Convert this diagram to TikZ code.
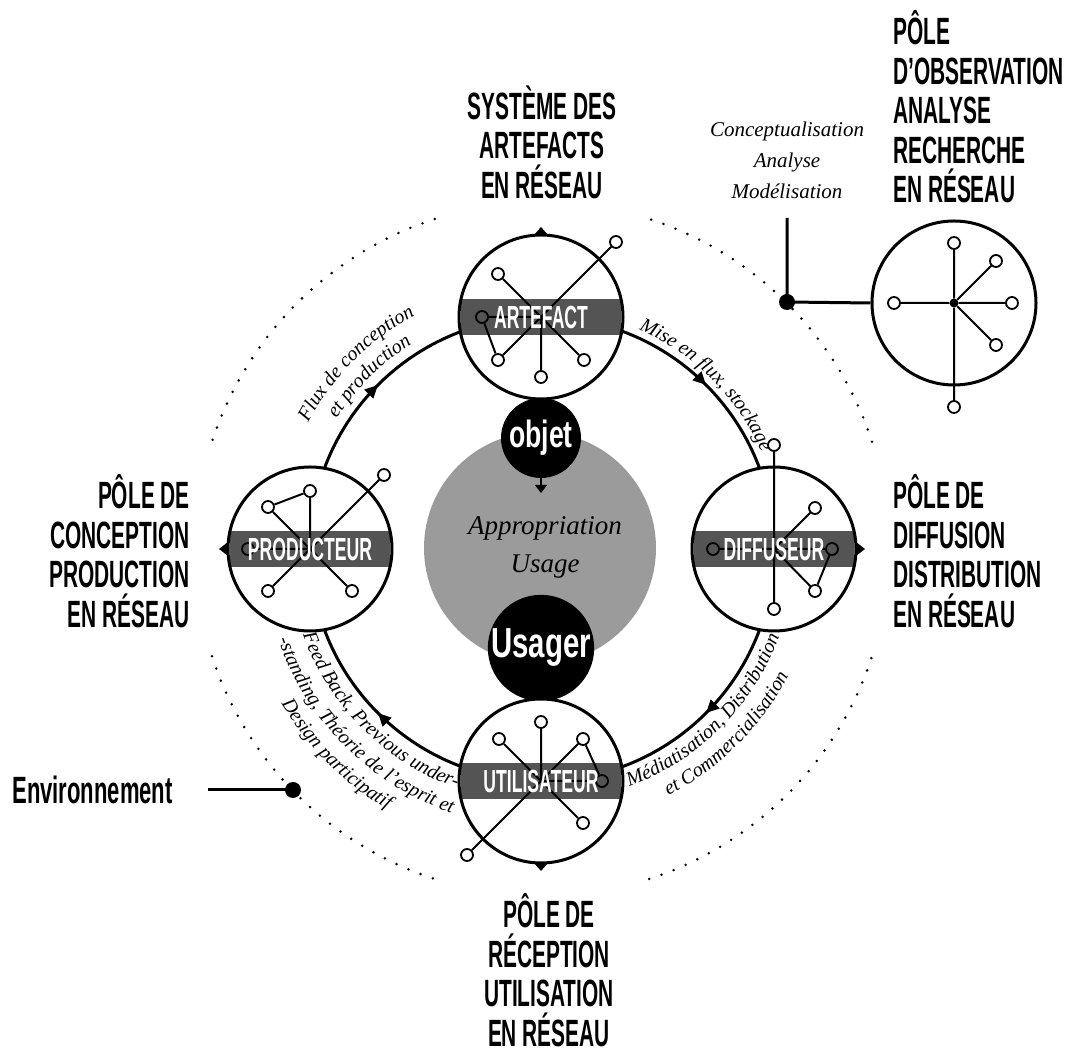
\documentclass[tikz,border=0pt]{standalone}
\usepackage{fontspec}
\setmainfont{Liberation Serif}
\newfontfamily\condf[FakeStretch=0.55]{Liberation Sans}
\newfontfamily\lowf[FakeStretch=0.7]{Liberation Sans}
\newfontfamily\envf[FakeStretch=0.58]{Liberation Sans}
\newfontfamily\itf{Liberation Serif}
\usetikzlibrary{arrows.meta,decorations.text,decorations.markings}
\definecolor{midgray}{HTML}{9B9B9B}
\begin{document}
\begin{tikzpicture}[x=1pt,y=1pt,
  thickline/.style={line width=3pt},
  netline/.style={line width=2pt},
  opn/.style={circle, draw, line width=1.8pt, fill=white, minimum size=12pt, inner sep=0pt},
  bandfill/.style={fill=black, fill opacity=0.67},
  bandtext/.style={text=white, inner sep=0pt, font=\condf\bfseries\fontsize{32}{32}\selectfont},
  biglabel/.style={inner sep=0pt, font=\condf\bfseries\fontsize{38}{39.5}\selectfont},
  pole/.style={circle, draw, line width=3pt, fill=white, minimum size=164pt, inner sep=0pt},
  dotline/.style={line width=2.8pt, dash pattern=on 0pt off 13pt, line cap=round},
  curvetext/.style={decorate, decoration={text along path, text align=center, text={|\itf\itshape\fontsize{20}{20}\selectfont|#1}}},
  bigdot/.style={circle, fill=black, minimum size=16pt, inner sep=0pt},
  italabel/.style={inner sep=0pt, align=center},
]
\fill[white] (0,0) rectangle (1072,1050);
\useasboundingbox (0,0) rectangle (1072,1050);

% ---------- ring, dotted environment circle, curved labels
\coordinate (C) at (542,501);
\begin{scope}[shift={(542,501)}]
  \draw[thickline, postaction={decorate}, decoration={markings,
      mark=at position 0.125 with {\arrow{Triangle[length=13pt,width=12pt]}},
      mark=at position 0.375 with {\arrow{Triangle[length=13pt,width=12pt]}},
      mark=at position 0.625 with {\arrow{Triangle[length=13pt,width=12pt]}},
      mark=at position 0.875 with {\arrow{Triangle[length=13pt,width=12pt]}}}]
    (0:232) arc[start angle=0, end angle=-360, radius=232];
  \draw[dotline] (18:347) arc[start angle=18, end angle=72, radius=347];
  \draw[dotline] (108:347) arc[start angle=108, end angle=162, radius=347];
  \draw[dotline] (198:347) arc[start angle=198, end angle=252, radius=347];
  \draw[dotline] (288:347) arc[start angle=288, end angle=342, radius=347];
  % curved labels
  \path[curvetext={Flux de conception}] (165:266) arc[start angle=165, end angle=105, radius=266];
  \path[curvetext={et production}] (165:243) arc[start angle=165, end angle=105, radius=243];
  \path[curvetext={Mise en flux, stockage}] (78:240) arc[start angle=78, end angle=12, radius=240];
  \path[curvetext={Médiatisation, Distribution}] (-80:253) arc[start angle=-80, end angle=-10, radius=253];
  \path[curvetext={et Commercialisation}] (-80:277) arc[start angle=-80, end angle=-10, radius=277];
  \path[curvetext={Feed Back, Previous under-}] (185:254) arc[start angle=185, end angle=265, radius=254];
  \path[curvetext={-standing, Théorie de l’esprit et}] (185:279) arc[start angle=185, end angle=265, radius=279];
  \path[curvetext={Design participatif}] (185:303) arc[start angle=185, end angle=265, radius=303];
\end{scope}

% ---------- central appropriation circle
\node[circle, fill=midgray, minimum size=232pt, inner sep=0pt] (G) at (540,502) {};
\node[italabel, font=\itf\itshape\fontsize{27}{38}\selectfont] (appr) at (545,503) {Appropriation\\Usage};
\node[circle, fill=black, minimum size=80pt, inner sep=0pt, text=white,
      font=\lowf\bfseries\fontsize{38}{38}\selectfont] (obj) at (541,612) {objet};
\coordinate (objtip) at (541,557);
\draw[line width=1.5pt, -{Triangle[length=8pt,width=12pt]}] (obj.south) -- (objtip);
\node[circle, fill=black, minimum size=106pt, inner sep=0pt, text=white,
      font=\lowf\bfseries\fontsize{42}{42}\selectfont] (usr) at (541,402) {Usager};

% ---------- poles
\node[pole] (T) at (541,733) {};
\node[pole] (L) at (310,501) {};
\node[pole] (R) at (774,501) {};
\node[pole] (B) at (541,269) {};
\node[pole] (O) at (954,747) {};

% tip triangles
\fill (534,815) -- (548,815) -- (541,823) -- cycle;
\fill (228,494) -- (228,508) -- (219,501) -- cycle;
\fill (856,494) -- (856,508) -- (865,501) -- cycle;
\fill (534,187) -- (548,187) -- (541,179) -- cycle;

% ARTEFACT network
\begin{scope}[shift={(541,733)}]
  \coordinate (a0) at (0,0);
  \node[opn] (a1) at (75,75) {};
  \node[opn] (a2) at (-43,-43) {};
  \node[opn] (a3) at (-43,43) {};
  \node[opn] (a4) at (43,-43) {};
  \node[opn] (a5) at (0,-60) {};
  \node[opn] (a6) at (-59,0) {};
  \draw[netline] (a2) -- (a1) (a3) -- (a4) (a5) -- (a0) (a6) -- (a0) (a6) -- (a2);
  \fill[bandfill] (-80,-18) rectangle (80,18);
  \node[bandtext] (ta) at (0,0) {ARTEFACT};
\end{scope}

% PRODUCTEUR network
\begin{scope}[shift={(310,501)}]
  \coordinate (b0) at (0,0);
  \node[opn] (b1) at (0,58) {};
  \node[opn] (b2) at (-42,42) {};
  \node[opn] (b3) at (74,74) {};
  \node[opn] (b4) at (-42,-42) {};
  \node[opn] (b5) at (42,-42) {};
  \node[opn] (b6) at (-62,0) {};
  \draw[netline] (b2) -- (b1) (b1) -- (b0) (b2) -- (b5) (b3) -- (b4) (b6) -- (b0);
  \fill[bandfill] (-80,-18) rectangle (80,18);
  \node[bandtext] (tb) at (0,0) {PRODUCTEUR};
\end{scope}

% DIFFUSEUR network
\begin{scope}[shift={(774,501)}]
  \coordinate (c0) at (0,0);
  \node[opn] (c1) at (0,104) {};
  \node[opn] (c2) at (0,-60) {};
  \node[opn] (c3) at (41,41) {};
  \node[opn] (c4) at (41,-42) {};
  \node[opn] (c5) at (-61,0) {};
  \node[opn] (c6) at (58,0) {};
  \draw[netline] (c1) -- (c2) (c3) -- (c0) (c0) -- (c4) (c5) -- (c6) (c4) -- (c6);
  \fill[bandfill] (-80,-18) rectangle (80,18);
  \node[bandtext] (tc) at (0,0) {DIFFUSEUR};
\end{scope}

% UTILISATEUR network
\begin{scope}[shift={(541,269)}]
  \coordinate (d0) at (0,0);
  \node[opn] (d1) at (0,59) {};
  \node[opn] (d2) at (-42,42) {};
  \node[opn] (d3) at (42,-42) {};
  \node[opn] (d4) at (42,42) {};
  \node[opn] (d5) at (-74,-74) {};
  \node[opn] (d6) at (61,0) {};
  \draw[netline] (d1) -- (d0) (d2) -- (d3) (d4) -- (d5) (d0) -- (d6) (d6) -- (d4);
  \fill[bandfill] (-80,-18) rectangle (80,18);
  \node[bandtext] (td) at (0,0) {UTILISATEUR};
\end{scope}

% OBSERVATION network
\begin{scope}[shift={(954,747)}]
  \node[circle, fill=black, minimum size=9pt, inner sep=0pt] (e0) at (0,0) {};
  \node[opn] (e1) at (0,60) {};
  \node[opn] (e2) at (42,42) {};
  \node[opn] (e3) at (58,0) {};
  \node[opn] (e4) at (42,-42) {};
  \node[opn] (e5) at (-60,0) {};
  \node[opn] (e6) at (0,-104) {};
  \draw[netline] (e0) -- (e1) (e0) -- (e2) (e0) -- (e3) (e0) -- (e4) (e0) -- (e5) (e0) -- (e6);
\end{scope}

% observation connector
\node[bigdot] (odot) at (787,748) {};
\coordinate (otop) at (787,832);
\draw[thickline] (otop) -- (odot.center) -- (O.west);
\node[italabel, font=\itf\itshape\fontsize{21}{31}\selectfont] (concept) at (787,890)
  {Conceptualisation\\Analyse\\Modélisation};

% environment connector
\node[bigdot] (edot) at (293,260) {};
\node[inner sep=0pt, anchor=east, font=\envf\bfseries\fontsize{38}{38}\selectfont] (env) at (173,260) {Environnement};
\coordinate (estart) at (208,260);
\draw[thickline] (estart) -- (edot.center);

% big labels
\node[biglabel, align=center] (lt) at (542,908) {SYSTÈME DES\\ARTEFACTS\\EN RÉSEAU};
\node[biglabel, align=left, anchor=west] (lo) at (893,943) {PÔLE\\D’OBSERVATION\\ANALYSE\\RECHERCHE\\EN RÉSEAU};
\node[biglabel, align=right, anchor=east] (ll) at (190,499) {PÔLE DE\\CONCEPTION\\PRODUCTION\\EN RÉSEAU};
\node[biglabel, align=left, anchor=west] (lr) at (893,499) {PÔLE DE\\DIFFUSION\\DISTRIBUTION\\EN RÉSEAU};
\node[biglabel, align=center] (lb) at (549,80) {PÔLE DE\\RÉCEPTION\\UTILISATION\\EN RÉSEAU};
\end{tikzpicture}
\end{document}
